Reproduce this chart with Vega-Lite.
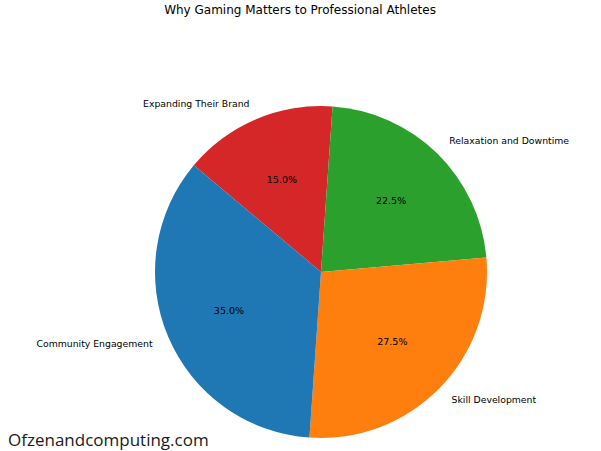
{
  "$schema": "https://vega.github.io/schema/vega-lite/v6.json",
  "autosize": "none",
  "padding": {"left": 121, "top": 105, "right": 80, "bottom": 12},
  "width": 400,
  "height": 334,
  "background": "white",
  "title": {
    "text": "Why Gaming Matters to Professional Athletes",
    "font": "DejaVu Sans",
    "fontSize": 12,
    "fontWeight": "normal",
    "color": "#000000",
    "anchor": "middle",
    "dx": -21,
    "offset": 83
  },
  "view": {"stroke": null},
  "data": {
    "values": [
      {"label": "Expanding Their Brand", "share": 0.15, "ord": 1},
      {"label": "Relaxation and Downtime", "share": 0.225, "ord": 2},
      {"label": "Skill Development", "share": 0.275, "ord": 3},
      {"label": "Community Engagement", "share": 0.35, "ord": 4}
    ]
  },
  "layer": [
    {
      "mark": {"type": "arc", "outerRadius": 166},
      "encoding": {
        "theta": {"field": "share", "type": "quantitative", "stack": true, "scale": {"range": [-0.8727, 5.4105]}},
        "order": {"field": "ord", "type": "quantitative"},
        "color": {
          "field": "label", "type": "nominal", "legend": null,
          "scale": {
            "domain": ["Community Engagement", "Skill Development", "Relaxation and Downtime", "Expanding Their Brand"],
            "range": ["#1f77b4", "#ff7f0e", "#2ca02c", "#d62728"]
          }
        }
      }
    },
    {
      "mark": {"type": "text", "font": "DejaVu Sans", "fontSize": 9.5, "align": "center", "baseline": "middle", "color": "#000000"},
      "encoding": {
        "theta": {"field": "share", "type": "quantitative", "stack": true, "scale": {"range": [-0.8727, 5.4105]}},
        "order": {"field": "ord", "type": "quantitative"},
        "radius": {"value": 100},
        "text": {"field": "share", "type": "quantitative", "format": ".1%"}
      }
    },
    {
      "mark": {"type": "text", "font": "DejaVu Sans", "fontSize": 9.3, "align": "right", "baseline": "middle", "color": "#000000"},
      "encoding": {
        "theta": {"field": "share", "type": "quantitative", "stack": true, "scale": {"range": [-0.8727, 5.4105]}},
        "order": {"field": "ord", "type": "quantitative"},
        "radius": {"value": 183},
        "text": {"condition": {"test": "datum.label == 'Community Engagement' || datum.label == 'Expanding Their Brand'", "field": "label"}, "value": ""}
      }
    },
    {
      "mark": {"type": "text", "font": "DejaVu Sans", "fontSize": 9.3, "align": "left", "baseline": "middle", "color": "#000000"},
      "encoding": {
        "theta": {"field": "share", "type": "quantitative", "stack": true, "scale": {"range": [-0.8727, 5.4105]}},
        "order": {"field": "ord", "type": "quantitative"},
        "radius": {"value": 183},
        "text": {"condition": {"test": "datum.label == 'Skill Development' || datum.label == 'Relaxation and Downtime'", "field": "label"}, "value": ""}
      }
    },
    {
      "data": {"values": [{"mark": "Ofzenandcomputing.com"}]},
      "mark": {"type": "text", "font": "Open Sans", "fontSize": 17, "align": "left", "baseline": "alphabetic", "color": "#1a1a1a"},
      "encoding": {
        "x": {"value": -113},
        "y": {"value": 341},
        "text": {"field": "mark", "type": "nominal"}
      }
    }
  ]
}
